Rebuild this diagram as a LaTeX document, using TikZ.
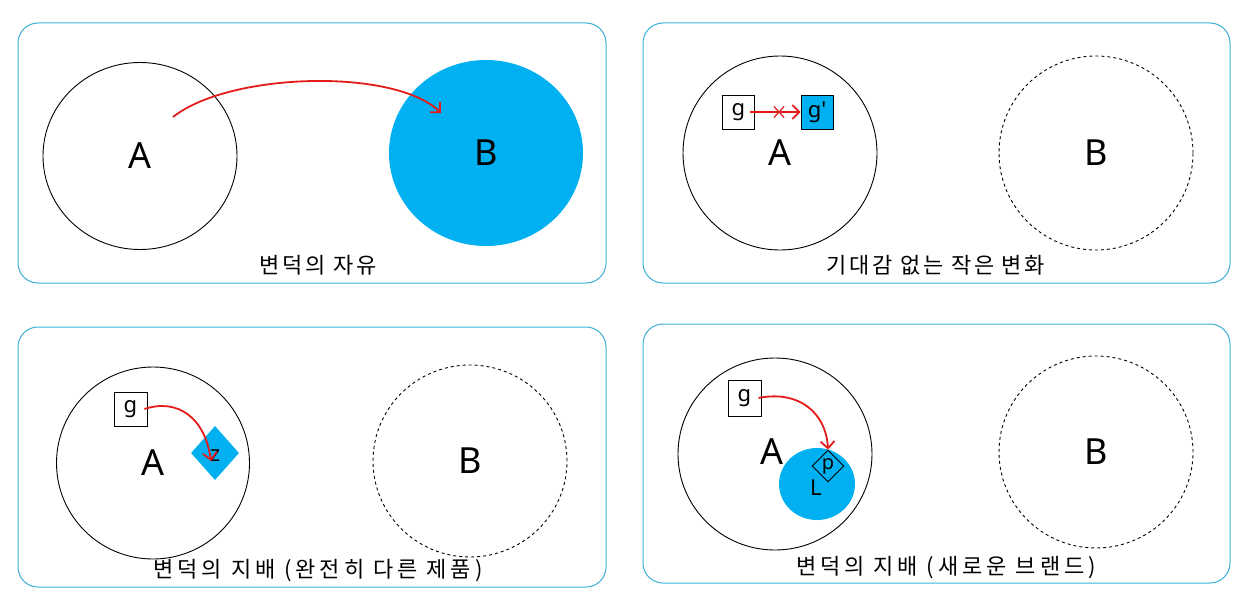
\documentclass[tikz,border=0pt]{standalone}
\usepackage{fontspec}
\setmainfont{Noto Sans CJK KR}
\newfontfamily\capfont[LetterSpace=12]{Noto Sans CJK KR}
\newfontfamily\capfontw[LetterSpace=18]{Noto Sans CJK KR}
\newfontfamily\lat{Noto Sans}
\usetikzlibrary{arrows.meta,shapes.geometric,shapes.misc}
\definecolor{pblue}{HTML}{00B0F0}
\definecolor{pframe}{HTML}{3AB0D6}
\definecolor{pred}{HTML}{E41B1B}
\tikzset{
  panel/.style={draw=pframe, line width=1pt, rounded corners=20pt},
  setc/.style={ellipse, draw=black, line width=0.9pt, inner sep=0pt, font=\lat\fontsize{36}{40}\selectfont},
  dset/.style={setc, dash pattern=on 3pt off 3pt},
  fset/.style={ellipse, fill=pblue, inner sep=0pt, font=\lat\fontsize{36}{40}\selectfont},
  gbox/.style={draw=black, line width=0.9pt, minimum width=32pt, minimum height=34pt, inner sep=0pt, font=\lat\fontsize{22}{24}\selectfont},
  capt/.style={font=\capfont\fontsize{22}{24}\selectfont, inner sep=0pt},
  captw/.style={font=\capfontw\fontsize{22}{24}\selectfont, inner sep=0pt},
  redarrow/.style={draw=pred, line width=1.8pt, -{Straight Barb[length=7pt,width=14pt,line width=1.8pt]}},
}
\begin{document}
\begin{tikzpicture}[x=1pt,y=-1pt]
\useasboundingbox (0,0) rectangle (1249,607);
% panels
\draw[panel] (18,23) rectangle (606,283);
\draw[panel] (643,23) rectangle (1230,283);
\draw[panel] (18,327) rectangle (606,587);
\draw[panel] (643,324) rectangle (1230,583);

% panel 1
\node[setc, minimum width=194pt, minimum height=187pt] (A1) at (140,156) {A};
\node[fset, minimum width=194pt, minimum height=186pt] (B1) at (486,153) {B};
\coordinate (a1s) at (173,117);
\coordinate (a1e) at (441,113);
\draw[redarrow] (a1s) .. controls (230,72) and (395,68) .. (a1e);
\node[capt] (c1) at (318,265) {변덕의 자유};

% panel 2
\node[setc, minimum width=194pt, minimum height=194pt] (A2) at (780,153) {A};
\node[dset, minimum width=194pt, minimum height=194pt] (B2) at (1096,153) {B};
\node[gbox] (g2) at (738.5,112) {g};
\node[gbox, fill=pblue] (gp2) at (817,112) {g\symbol{"0027}};
\draw[redarrow] ([xshift=-5pt]g2.east) -- (gp2.west);
\node[cross out, draw=pred, line width=1.2pt, minimum width=9pt, minimum height=10pt, inner sep=0pt] (x2) at (779,112) {};
\node[capt] (c2) at (936,265) {기대감 없는 작은 변화};

% panel 3
\node[setc, minimum width=193pt, minimum height=192pt] (A3) at (153,463) {A};
\node[dset, minimum width=194pt, minimum height=192pt] (B3) at (470,461) {B};
\node[gbox, minimum width=33pt] (g3) at (130.5,409) {g};
\node[diamond, fill=pblue, minimum width=48pt, minimum height=54pt, inner sep=0pt] (z3) at (215,453) {};
\node[font=\lat\fontsize{22}{24}\selectfont, inner sep=0pt] (z3l) at (215,456) {z};
\draw[redarrow] ([xshift=-3pt]g3.east) .. controls (178,398) and (205,418) .. ([shift={(-4pt,-8pt)}]z3.center);
\node[captw] (c3) at (318,571) {변덕의 지배 (완전히 다른 제품)};

% panel 4
\node[setc, minimum width=194pt, minimum height=192pt] (A4) at (775,454) {};
\node[font=\lat\fontsize{36}{40}\selectfont, inner sep=0pt] (A4l) at (772,452) {A};
\node[dset, minimum width=194pt, minimum height=192pt] (B4) at (1096,452) {B};
\node[gbox, minimum width=33pt, minimum height=36pt] (g4) at (744.5,398) {g};
\node[ellipse, fill=pblue, minimum width=76pt, minimum height=72pt, inner sep=0pt] (L4) at (817,484) {};
\node[font=\lat\fontsize{22}{24}\selectfont, inner sep=0pt] (L4l) at (816,488) {L};
\node[diamond, draw=black, line width=0.9pt, minimum size=32pt, inner sep=0pt] (p4) at (828,466) {};
\node[font=\lat\fontsize{20}{22}\selectfont, inner sep=0pt] (p4l) at (828,466) {p};
\draw[redarrow] ([xshift=-3pt]g4.east) .. controls (798,390) and (826,412) .. (p4.north);
\node[captw] (c4) at (946,568) {변덕의 지배 (새로운 브랜드)};
\end{tikzpicture}
\end{document}
